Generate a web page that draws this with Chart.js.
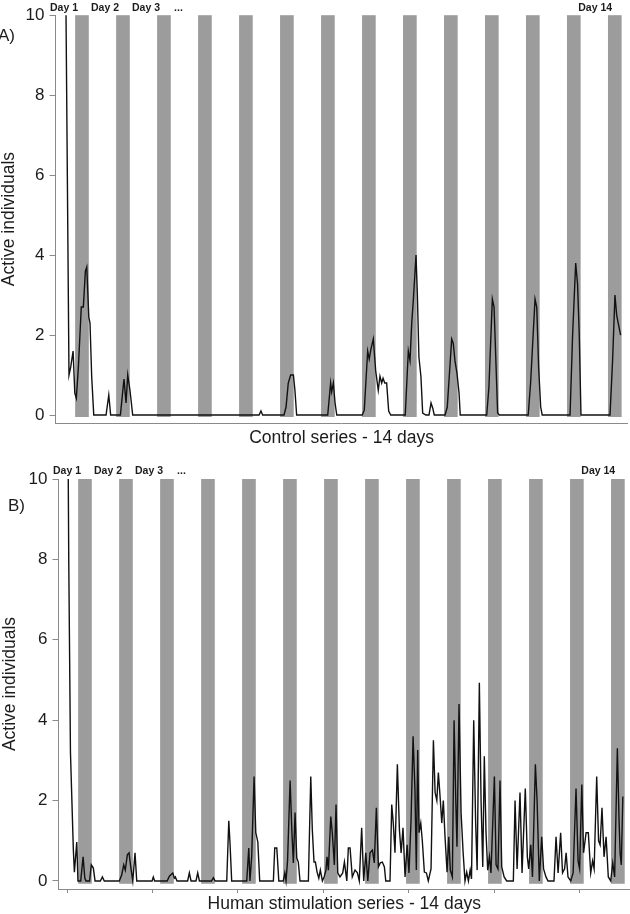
<!DOCTYPE html>
<html>
<head>
<meta charset="utf-8">
<title>Active individuals - 14 days</title>
<script src="https://cdn.jsdelivr.net/npm/chart.js@4.4.1/dist/chart.umd.min.js"></script>
<style>
  html, body { margin: 0; padding: 0; background: #fff; }
  canvas { display: block; }
</style>
</head>
<body>
<canvas id="chartA" width="630" height="455"></canvas>
<canvas id="chartB" width="630" height="459"></canvas>
<script>
"use strict";

// ---- data (x = hours since start of recording) ----
const Y_TICKS = [0, 2, 4, 6, 8, 10];
const X_TICKS_B = [0, 50, 100, 150, 200, 250, 300];

const NIGHT_START_H = [6.5, 30.5, 54.5, 78.5, 102.5, 126.5, 150.5, 174.5, 198.5, 222.5, 246.5, 270.5, 294.5, 318.5];
const NIGHT_LENGTH_H = 8;

const DAY_LABELS = ["Day 1", "Day 2", "Day 3", "...", "Day 14"];
const DAY_LABEL_H = [0, 24, 48, 67, 311];

const CONTROL_HOURS = [
  0, 2.9, 3.9, 5.3, 6.3, 7.2, 8.4, 10.1, 11.3, 12.5,
  13.3, 14.5, 15.2, 16.2, 17.4, 24.6, 26.2, 27.3, 33.0, 35.1,
  36.3, 37.3, 38.6, 40.2, 114.2, 115.3, 116.3, 128.8, 130.0, 131.3,
  132.7, 134.3, 135.2, 136.2, 154.4, 156.1, 156.7, 157.7, 158.7, 159.7,
  174.6, 175.8, 177.8, 178.7, 179.7, 181.1, 182.5, 184.0, 185.0, 186.0,
  186.8, 187.8, 188.9, 190.1, 191.3, 199.8, 201.6, 202.6, 203.6, 204.5,
  206.1, 206.9, 207.8, 209.0, 210.0, 211.9, 213.7, 214.9, 215.9, 216.8,
  223.1, 224.4, 227.0, 227.9, 228.9, 230.1, 231.3, 232.0, 247.5, 248.8,
  250.8, 251.8, 253.9, 254.9, 271.8, 273.2, 275.8, 276.8, 277.9, 279.1,
  280.0, 296.3, 297.8, 299.6, 300.7, 301.7, 302.7, 319.7, 321.2, 322.6,
  323.6, 324.5, 325.9,
];
const CONTROL_ACTIVE = [
  16, 1.0, 1.2, 1.6, 0.55, 0.42, 1.2, 2.7, 2.7, 3.6,
  3.7, 2.45, 2.3, 0.95, 0, 0, 0.5, 0, 0, 0.9,
  0.3, 1.0, 0.62, 0, 0, 0.1, 0, 0, 0.2, 0.8,
  1.0, 1.0, 0.62, 0, 0, 0.8, 0.58, 0.8, 0.3, 0,
  0, 0.12, 1.6, 1.4, 1.65, 1.9, 1.1, 0.62, 0.97, 0.8,
  0.92, 0.8, 0.8, 0.1, 0, 0, 1.6, 1.36, 2.3, 2.85,
  4.0, 3.0, 1.45, 0.95, 0.05, 0, 0, 0.3, 0.17, 0,
  0, 0.2, 1.9, 1.8, 1.36, 1.04, 0.55, 0, 0, 0.7,
  2.9, 2.7, 0.05, 0, 0, 0.8, 2.9, 2.7, 1.2, 0.2,
  0, 0, 2.0, 3.8, 3.27, 2.0, 0, 0, 1.36, 3.0,
  2.5, 2.3, 2.0,
];

const STIM_HOURS = [
  0, 1, 2, 3.7, 4.3, 5.7, 6.4, 8.0, 9.4, 10.4,
  11.1, 13.2, 14.2, 15.4, 16.4, 19.5, 20.7, 21.8, 30.6, 32.0,
  33.2, 34.1, 35.3, 36.3, 37.3, 38.5, 39.8, 40.8, 49.8, 50.5,
  51.3, 58.6, 59.9, 61.9, 62.8, 63.4, 64.4, 70.6, 71.6, 72.6,
  75.5, 76.5, 77.5, 84.6, 85.7, 86.7, 93.5, 94.7, 95.4, 96.4,
  105.2, 106.4, 107.1, 108.1, 109.5, 110.5, 111.7, 112.8, 120.8, 121.6,
  122.8, 124.0, 126.6, 127.5, 128.2, 129.1, 130.6, 131.6, 132.5, 133.5,
  134.5, 135.4, 136.4, 141.3, 142.7, 143.6, 144.6, 145.4, 146.4, 147.4,
  148.3, 149.5, 150.5, 151.6, 152.2, 153.0, 154.4, 155.3, 156.5, 157.5,
  158.5, 159.8, 161.4, 162.4, 163.8, 164.7, 165.7, 167.0, 168.6, 170.0,
  171.1, 172.5, 173.7, 174.9, 176.1, 177.4, 178.8, 179.9, 181.1, 182.3,
  183.4, 184.6, 185.8, 186.6, 189.1, 190.1, 191.0, 192.0, 193.4, 194.6,
  195.6, 196.7, 197.9, 199.1, 200.2, 201.4, 202.6, 203.7, 204.5, 205.3,
  206.1, 207.1, 208.0, 209.2, 210.4, 211.5, 213.1, 214.5, 215.5, 216.5,
  217.4, 218.4, 219.4, 220.3, 221.3, 222.5, 223.5, 224.4, 225.6, 226.6,
  227.6, 228.3, 229.5, 230.7, 231.9, 233.0, 234.0, 235.0, 236.0, 236.8,
  238.1, 239.2, 240.1, 241.4, 242.4, 243.4, 244.3, 245.3, 246.3, 247.3,
  248.2, 250.2, 251.2, 252.3, 253.5, 254.5, 255.9, 257.4, 261.3, 262.3,
  263.5, 265.2, 266.4, 268.3, 269.5, 270.3, 271.5, 272.5, 274.2, 275.2,
  276.5, 277.9, 279.0, 280.4, 281.6, 285.1, 286.3, 287.5, 289.0, 290.1,
  291.3, 292.2, 293.3, 294.9, 296.3, 298.0, 299.2, 300.1, 301.4, 302.4,
  303.9, 305.2, 306.6, 307.7, 308.6, 310.1, 311.2, 312.1, 313.2, 314.4,
  315.6, 316.9, 318.3, 319.5, 320.6, 322.2, 323.2, 323.8, 324.5, 325.4,
];
const STIM_ACTIVE = [
  15, 8, 3.2, 0.77, 0.22, 0.97, 0, 0, 0.6, 0.07,
  0, 0, 0.4, 0.32, 0, 0, 0.1, 0, 0, 0.15,
  0.4, 0.27, 0.65, 0.7, 0.35, 0, 0.7, 0, 0, 0.1,
  0, 0, 0.12, 0.2, 0.07, 0.1, 0, 0, 0.2, 0,
  0, 0.2, 0, 0, 0.08, 0, 0, 1.5, 0.95, 0,
  0, 0.82, 0, 0.6, 2.6, 1.2, 0.97, 0, 0, 0.82,
  0.82, 0, 0, 0.2, 0, 0.5, 2.5, 1.27, 0.45, 1.7,
  0.57, 0.47, 0, 0, 2.6, 1.27, 0.47, 0.47, 0.22, 0.07,
  0.27, 0, 0.1, 0.27, 0.6, 0.27, 1.6, 1.2, 0.4, 1.9,
  0.2, 0.1, 0.2, 0.47, 0, 0.82, 0.82, 0.1, 0.27, 0.2,
  0, 1.32, 0, 0.7, 0, 0.7, 0.77, 0.45, 1.82, 0.35,
  0.45, 0.47, 0.35, 0, 0, 1.9, 1.44, 0.7, 2.9, 1.27,
  0.7, 1.32, 0.1, 0.9, 0.2, 1.5, 3.6, 2.26, 0.27, 3.26,
  1.2, 1.44, 1.0, 0.22, 0.2, 0, 0.3, 3.5, 2.2, 2.0,
  2.7, 2.1, 1.44, 2.0, 1.1, 0.22, 1.1, 0.27, 0.1, 4.0,
  2.0, 0.85, 4.4, 1.7, 0.7, 0, 0.22, 0, 0.27, 0.05,
  4.0, 1.5, 0.27, 4.93, 2.0, 0.35, 3.1, 1.2, 0.27, 0.6,
  0.2, 2.6, 0.4, 0.3, 2.5, 0.35, 0.1, 0, 0, 2.0,
  0.3, 2.2, 0.2, 2.3, 0.6, 0.3, 0.9, 0.1, 2.9, 2.0,
  0, 1.1, 0.3, 0.1, 0, 0, 1.1, 0.2, 1.2, 0.2,
  0.3, 0.7, 0.1, 0, 0.2, 2.3, 0.5, 0.3, 2.4, 0.7,
  1.2, 1.2, 0.2, 0.5, 0.3, 2.6, 1.0, 0.9, 1.82, 0.6,
  1.1, 0.1, 0, 0.45, 0.1, 3.3, 1.5, 0.7, 0.4, 2.1,
];

// ---- styling ----
const FONT_FAMILY = "'Liberation Sans', Arial, sans-serif";
const TEXT_COLOR  = "#1c1c1c";
const AXIS_COLOR  = "#8a8a8a";
const BAND_COLOR  = "#9c9c9c";
const LINE_COLOR  = "#111111";
const Y_MIN = -0.2;
const Y_MAX = 10;

// gray night bands + "Day n" labels + panel letter
const nightBands = {
  id: "nightBands",
  beforeDatasetsDraw(chart, args, opts) {
    const { ctx, scales: { x, y } } = chart;
    const top    = y.getPixelForValue(Y_MAX);
    const bottom = y.getPixelForValue(opts.floor);
    ctx.save();
    ctx.fillStyle = BAND_COLOR;
    NIGHT_START_H.forEach((start) => {
      const left  = x.getPixelForValue(start);
      const right = x.getPixelForValue(start + NIGHT_LENGTH_H);
      ctx.fillRect(left, top, right - left, bottom - top);
    });
    ctx.restore();
  },
  afterDraw(chart, args, opts) {
    const { ctx, chartArea, scales: { x } } = chart;
    ctx.save();
    ctx.fillStyle = TEXT_COLOR;
    ctx.textBaseline = "middle";
    ctx.textAlign = "center";
    ctx.font = `bold 10.5px ${FONT_FAMILY}`;
    DAY_LABELS.forEach((txt, i) => {
      ctx.fillText(txt, x.getPixelForValue(DAY_LABEL_H[i]), chartArea.top - opts.dayGap);
    });
    ctx.textAlign = "left";
    ctx.font = `17px ${FONT_FAMILY}`;
    ctx.fillText(opts.letter, opts.letterX, opts.letterY);
    ctx.restore();
  },
};

function buildOptions(p) {
  return {
    responsive: false,
    animation: false,
    events: [],
    layout: { padding: { top: p.padTop, right: p.padRight, left: 0, bottom: 0 } },
    elements: {
      point: { radius: 0 },
      line:  { borderWidth: 1.4, tension: 0 },
    },
    plugins: {
      legend:  { display: false },
      tooltip: { enabled: false },
      nightBands: {
        floor: p.bandFloor,
        dayGap: p.dayGap,
        letter: p.letter,
        letterX: p.letterX,
        letterY: p.letterY,
      },
    },
    scales: {
      x: {
        type: "linear",
        min: p.xMin,
        max: p.xMax,
        afterBuildTicks: (s) => {
          if (p.xTicks) s.ticks = p.xTicks.map((v) => ({ value: v }));
        },
        afterFit: (s) => { s.height = p.xAxisHeight; },
        grid: {
          display: !!p.xTicks,
          drawOnChartArea: false,
          drawTicks: true,
          tickLength: 4,
          color: AXIS_COLOR,
        },
        border: { display: true, color: AXIS_COLOR, width: 1 },
        ticks: { display: false },
        title: {
          display: true,
          text: p.xTitle,
          color: TEXT_COLOR,
          font: { family: FONT_FAMILY, size: 17.5, lineHeight: 1 },
          padding: { top: 0, bottom: p.xTitlePad },
        },
      },
      y: {
        type: "linear",
        min: Y_MIN,
        max: Y_MAX,
        afterBuildTicks: (s) => { s.ticks = Y_TICKS.map((v) => ({ value: v })); },
        afterFit: (s) => { s.width = p.yAxisWidth; },
        grid: {
          drawOnChartArea: false,
          drawTicks: true,
          tickLength: 6,
          color: AXIS_COLOR,
        },
        border: { display: true, color: AXIS_COLOR, width: 1 },
        ticks: {
          color: TEXT_COLOR,
          padding: 5,
          font: { family: FONT_FAMILY, size: 17 },
        },
        title: {
          display: true,
          text: "Active individuals",
          color: TEXT_COLOR,
          font: { family: FONT_FAMILY, size: 17.5, lineHeight: 1 },
          padding: { top: p.yTitlePad, bottom: 0 },
        },
      },
    },
  };
}

function toPoints(hours, values) {
  return hours.map((h, i) => ({ x: h, y: values[i] }));
}

function renderPanel(canvasId, hours, values, p) {
  const canvas = document.getElementById(canvasId);
  if (!canvas) return null;
  return new Chart(canvas, {
    type: "line",
    data: {
      datasets: [{
        label: "Active individuals",
        data: toPoints(hours, values),
        borderColor: LINE_COLOR,
        backgroundColor: LINE_COLOR,
        fill: false,
      }],
    },
    options: buildOptions(p),
    plugins: [nightBands],
  });
}

renderPanel("chartA", CONTROL_HOURS, CONTROL_ACTIVE, {
  padTop: 12, padRight: 2.4,
  xMin: -5, xMax: 330, xTicks: null,
  xAxisHeight: 32, xTitle: "Control series - 14 days", xTitlePad: 8.5,
  yAxisWidth: 55.5, yTitlePad: 0.5,
  bandFloor: -0.05, dayGap: 7,
  letter: "A)", letterX: -2, letterY: 36,
});

renderPanel("chartB", STIM_HOURS, STIM_ACTIVE, {
  padTop: 24, padRight: 0,
  xMin: -5, xMax: 329.6, xTicks: X_TICKS_B,
  xAxisHeight: 25, xTitle: "Human stimulation series - 14 days", xTitlePad: 1.5,
  yAxisWidth: 58.5, yTitlePad: 1.5,
  bandFloor: -0.07, dayGap: 8,
  letter: "B)", letterX: 8, letterY: 51,
});
</script>
</body>
</html>
